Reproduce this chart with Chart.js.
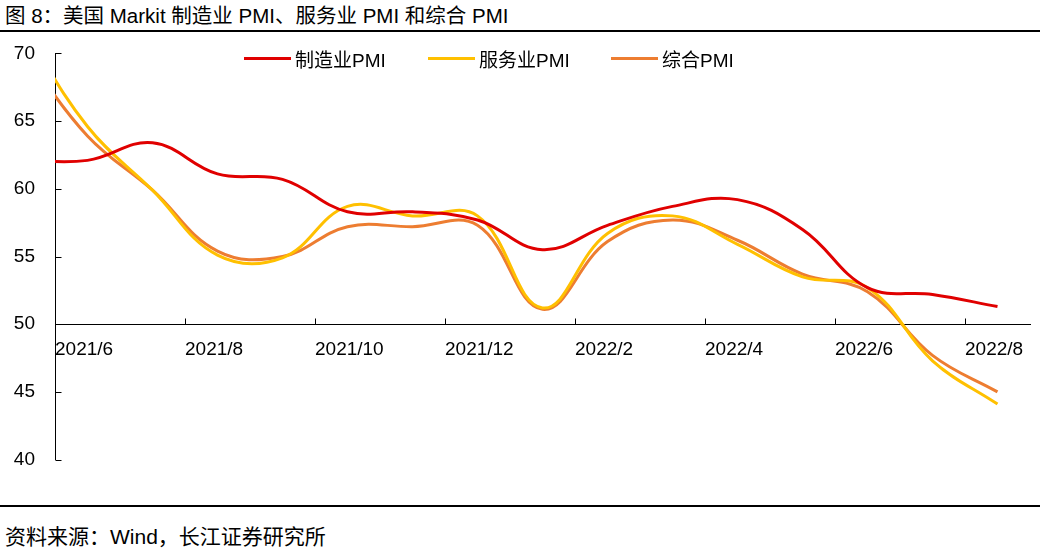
<!DOCTYPE html>
<html>
<head>
<meta charset="utf-8">
<title>美国 Markit PMI</title>
<script src="https://cdn.jsdelivr.net/npm/chart.js"></script>
<style>
  body { margin:0; width:1040px; height:548px; background:#fff; position:relative; overflow:hidden;
         font-family:"Liberation Sans","Noto Sans CJK SC",sans-serif; color:#000; }
  .title { position:absolute; left:5px; top:3px; font-size:20.5px; line-height:26px; white-space:nowrap; }
  .rule { position:absolute; left:0; width:1040px; height:2px; background:#000; }
  .source { position:absolute; left:5px; top:524px; font-size:21px; line-height:26px; white-space:nowrap; }
  .wrap { position:absolute; left:0; top:22px; width:1040px; height:469px; }
  .legend-item { position:absolute; top:46px; height:24px; display:flex; align-items:center; font-size:19px; white-space:nowrap; }
  .legend-item i { display:inline-block; width:47px; height:3px; margin-right:4px; }
</style>
</head>
<body>
<div class="title">图 8：美国 Markit 制造业 PMI、服务业 PMI 和综合 PMI</div>
<div class="rule" style="top:30px"></div>
<div class="wrap"><canvas id="pmiChart"></canvas></div>
<div id="legend"></div>
<div class="rule" style="top:505px"></div>
<div class="source">资料来源：Wind，长江证券研究所</div>

<script>
// mois 2021/5 .. 2022/8 (2021/5 sert seulement à tracer le début coupé par l'axe)
const months = ['2021/5','2021/6','2021/7','2021/8','2021/9','2021/10','2021/11','2021/12',
                '2022/1','2022/2','2022/3','2022/4','2022/5','2022/6','2022/7','2022/8'];
const manufacturing = [62.1,62.1,63.4,61.1,60.7,58.3,58.3,57.7,55.5,57.3,58.7,59.2,57.0,52.7,52.2,51.3];
const services      = [72.0,64.6,59.9,55.1,54.9,58.7,58.0,58.0,51.2,56.7,58.0,55.9,53.5,52.7,47.3,44.1];
const composite     = [70.2,63.9,59.9,55.4,55.0,57.2,57.2,57.3,51.1,56.1,57.7,56.2,53.7,52.4,47.7,45.0];

const seriesNames  = ['制造业PMI','服务业PMI','综合PMI'];
const seriesColors = ['#E00000','#FFC000','#ED7D31'];

// étiquettes de l'axe X (une tous les deux mois)
const xLabels = ['2021/6','2021/8','2021/10','2021/12','2022/2','2022/4','2022/6','2022/8'];
const yTicks = [40,45,50,55,60,65,70];

// x = nombre de mois depuis début 2021/6, point placé au milieu du mois
function toPoints(values) {
  return values.map((v, i) => ({ x: i - 0.5, y: v }));
}

const allSeries = [manufacturing, services, composite];

// petites graduations tournées vers l'intérieur
const innerTicks = {
  id: 'innerTicks',
  afterDraw(chart) {
    const { ctx, scales: { x, y } } = chart;
    const left = Math.round(x.left) + 0.5;
    const axisY = Math.round(y.getPixelForValue(50)) + 0.5;
    ctx.save();
    ctx.strokeStyle = '#000';
    ctx.lineWidth = 1;
    ctx.beginPath();
    y.ticks.forEach(t => {
      const py = Math.round(y.getPixelForValue(t.value)) + 0.5;
      ctx.moveTo(left, py);
      ctx.lineTo(left + 6, py);
    });
    x.ticks.forEach(t => {
      if (t.value === 0) return;
      const px = Math.round(x.getPixelForValue(t.value)) + 0.5;
      ctx.moveTo(px, axisY);
      ctx.lineTo(px, axisY - 6);
    });
    ctx.stroke();
    ctx.restore();
  }
};

const tickFont = { family: '"Liberation Sans", Arial, sans-serif', size: 19 };

new Chart(document.getElementById('pmiChart'), {
  type: 'line',
  data: {
    datasets: allSeries.map((vals, k) => ({
      label: seriesNames[k],
      data: toPoints(vals),
      borderColor: seriesColors[k],
      backgroundColor: seriesColors[k],
      borderWidth: 3,
      pointRadius: 0,
      pointHoverRadius: 0,
      tension: 0.4,
      clip: { left: 0, top: 10, right: 10, bottom: 10 }
    }))
  },
  options: {
    responsive: true,
    maintainAspectRatio: false,
    animation: false,
    events: [],
    elements: { line: { capBezierPoints: false } },
    layout: { padding: { top: 0, right: 10, bottom: 5, left: 0 } },
    plugins: { legend: { display: false }, tooltip: { enabled: false } },
    scales: {
      x: {
        type: 'linear',
        position: { y: 50 },
        min: 0,
        max: 15,
        afterBuildTicks: s => { s.ticks = xLabels.map((_, i) => ({ value: i * 2 })); },
        grid: { display: true, drawOnChartArea: false, drawTicks: false },
        border: { display: true, color: '#000', width: 1 },
        ticks: {
          align: 'start',
          padding: 14,
          autoSkip: false,
          maxRotation: 0,
          color: '#000',
          font: tickFont,
          callback: (v, i) => xLabels[i]
        }
      },
      y: {
        min: 40,
        max: 70,
        afterBuildTicks: s => { s.ticks = yTicks.map(v => ({ value: v })); },
        afterFit: s => { s.width = 55; },
        grid: { display: true, drawOnChartArea: false, drawTicks: false },
        border: { display: true, color: '#000', width: 1 },
        ticks: { padding: 20, color: '#000', font: tickFont }
      }
    }
  },
  plugins: [innerTicks]
});

// légende HTML placée dans la zone du graphique
const legendLeft = [244, 428, 611];
const legend = document.getElementById('legend');
seriesNames.forEach((name, k) => {
  const item = document.createElement('div');
  item.className = 'legend-item';
  item.style.left = legendLeft[k] + 'px';
  item.innerHTML = '<i style="background:' + seriesColors[k] + '"></i>' + name;
  legend.appendChild(item);
});
</script>
</body>
</html>
